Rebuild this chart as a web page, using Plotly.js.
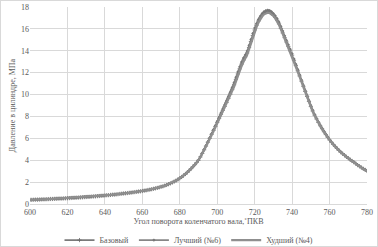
<!DOCTYPE html>
<html>
<head>
<meta charset="utf-8">
<script src="https://cdn.plot.ly/plotly-3.0.1.min.js"></script>
<style>
html,body{margin:0;padding:0;background:#fff;}
#wrap{position:relative;width:378px;height:247px;}
#chart{width:378px;height:247px;}
#frame{position:absolute;left:0;top:0;width:378px;height:247px;box-sizing:border-box;border:1px solid #d9d9d9;pointer-events:none;}
</style>
</head>
<body>
<div id="wrap"><div id="chart"></div><div id="frame"></div></div>
<script>
// Crank angle, degrees (600..780, step 1)
const angleStart = 600;
const angleStep = 1;

// Базовый
const baseValues = [
0.38,0.38,0.39,0.40,0.40,0.41,0.42,0.43,0.43,0.44,
0.45,0.46,0.46,0.47,0.48,0.49,0.50,0.50,0.51,0.52,
0.53,0.54,0.55,0.56,0.57,0.58,0.59,0.60,0.61,0.63,
0.64,0.65,0.66,0.68,0.69,0.70,0.72,0.73,0.75,0.76,
0.78,0.80,0.81,0.83,0.85,0.86,0.88,0.90,0.92,0.94,
0.96,0.98,1.00,1.02,1.04,1.07,1.09,1.11,1.14,1.16,
1.19,1.22,1.25,1.28,1.31,1.35,1.39,1.43,1.47,1.52,
1.57,1.62,1.68,1.74,1.81,1.88,1.96,2.05,2.14,2.24,
2.35,2.47,2.60,2.74,2.89,3.05,3.22,3.40,3.59,3.79,
4.00,4.30,4.62,4.95,5.29,5.64,6.00,6.36,6.72,7.08,
7.45,7.82,8.19,8.55,8.91,9.27,9.65,10.04,10.45,10.90,
11.38,11.88,12.35,12.78,13.15,13.45,13.80,14.30,14.85,15.40,
15.90,16.33,16.72,17.03,17.28,17.46,17.56,17.60,17.56,17.45,
17.27,17.05,16.78,16.45,16.05,15.63,15.20,14.80,14.40,14.00,
13.60,13.13,12.65,12.17,11.70,11.22,10.75,10.28,9.82,9.36,
8.90,8.50,8.12,7.77,7.45,7.15,6.88,6.60,6.34,6.09,
5.85,5.64,5.44,5.25,5.07,4.90,4.74,4.59,4.45,4.31,
4.18,4.05,3.93,3.81,3.70,3.55,3.44,3.33,3.22,3.12,
3.02
];

// Лучший (№6)
const bestValues = [
0.38,0.38,0.39,0.40,0.40,0.41,0.42,0.43,0.43,0.44,
0.45,0.46,0.46,0.47,0.48,0.49,0.50,0.50,0.51,0.52,
0.53,0.54,0.55,0.56,0.57,0.58,0.59,0.60,0.61,0.63,
0.64,0.65,0.66,0.68,0.69,0.70,0.72,0.73,0.75,0.76,
0.78,0.80,0.81,0.83,0.85,0.86,0.88,0.90,0.92,0.94,
0.96,0.98,1.00,1.02,1.04,1.07,1.09,1.11,1.14,1.16,
1.19,1.22,1.25,1.28,1.31,1.35,1.39,1.43,1.47,1.52,
1.57,1.62,1.68,1.74,1.81,1.88,1.96,2.05,2.14,2.24,
2.35,2.47,2.60,2.74,2.89,3.05,3.22,3.40,3.59,3.79,
4.00,4.31,4.64,4.98,5.33,5.69,6.06,6.43,6.80,7.17,
7.55,7.93,8.31,8.68,9.05,9.42,9.81,10.21,10.63,11.09,
11.57,12.07,12.54,12.97,13.33,13.62,13.98,14.49,15.04,15.58,
16.07,16.49,16.86,17.16,17.40,17.57,17.67,17.71,17.67,17.57,
17.40,17.19,16.93,16.61,16.22,15.80,15.37,14.96,14.55,14.14,
13.73,13.26,12.78,12.30,11.82,11.34,10.86,10.38,9.92,9.45,
8.99,8.58,8.19,7.84,7.51,7.21,6.93,6.65,6.38,6.13,
5.89,5.67,5.47,5.27,5.09,4.92,4.76,4.61,4.46,4.32,
4.19,4.06,3.94,3.82,3.71,3.56,3.45,3.34,3.23,3.13,
3.03
];

// Худший (№4)
const worstValues = [
0.38,0.38,0.39,0.40,0.40,0.41,0.42,0.43,0.43,0.44,
0.45,0.46,0.46,0.47,0.48,0.49,0.50,0.50,0.51,0.52,
0.53,0.54,0.55,0.56,0.57,0.58,0.59,0.60,0.61,0.63,
0.64,0.65,0.66,0.68,0.69,0.70,0.72,0.73,0.75,0.76,
0.78,0.80,0.81,0.83,0.85,0.86,0.88,0.90,0.92,0.94,
0.96,0.98,1.00,1.02,1.04,1.07,1.09,1.11,1.14,1.16,
1.19,1.22,1.25,1.28,1.31,1.35,1.39,1.43,1.47,1.52,
1.57,1.62,1.68,1.74,1.81,1.88,1.96,2.05,2.14,2.24,
2.35,2.47,2.60,2.74,2.89,3.05,3.22,3.40,3.59,3.79,
4.00,4.28,4.59,4.91,5.24,5.58,5.93,6.28,6.63,6.99,
7.35,7.71,8.07,8.42,8.77,9.12,9.49,9.87,10.27,10.71,
11.19,11.69,12.16,12.59,12.97,13.28,13.63,14.12,14.66,15.21,
15.72,16.16,16.56,16.88,17.14,17.33,17.44,17.48,17.45,17.35,
17.18,16.96,16.69,16.36,15.96,15.54,15.11,14.71,14.31,13.91,
13.51,13.04,12.56,12.08,11.61,11.13,10.66,10.19,9.74,9.28,
8.83,8.43,8.06,7.72,7.40,7.11,6.84,6.56,6.31,6.06,
5.82,5.61,5.41,5.23,5.05,4.88,4.72,4.57,4.44,4.30,
4.17,4.04,3.92,3.80,3.69,3.54,3.43,3.32,3.21,3.11,
3.01
];

const seriesNames = ['Базовый', 'Лучший (№6)', 'Худший (№4)'];
const xTicks = [600,620,640,660,680,700,720,740,760,780];
const yTicks = [0,2,4,6,8,10,12,14,16,18];

const angles = baseValues.map((_, i) => angleStart + i * angleStep);

const traces = [
  {
    x: angles, y: baseValues, name: seriesNames[0], type: 'scatter', mode: 'lines+markers',
    line: {color: '#7a7a7a', width: 1.6},
    marker: {symbol: 'cross-thin', size: 3, color: '#6a6a6a', line: {color: '#6a6a6a', width: 0.8}}
  },
  {
    x: angles, y: bestValues, name: seriesNames[1], type: 'scatter', mode: 'lines+markers',
    line: {color: '#868686', width: 1.6},
    marker: {symbol: 'diamond', size: 2.5, color: '#777777'}
  },
  {
    x: angles, y: worstValues, name: seriesNames[2], type: 'scatter', mode: 'lines',
    line: {color: '#8f8f8f', width: 2.2}
  }
];

const fontFam = '"Liberation Serif", "Times New Roman", serif';

const layout = {
  width: 378, height: 247,
  margin: {l: 30, r: 11, t: 7, b: 43},
  paper_bgcolor: '#ffffff', plot_bgcolor: '#ffffff',
  font: {family: fontFam, size: 8, color: '#595959'},
  showlegend: true,
  legend: {orientation: 'h', xref: 'container', yref: 'container', x: 0.5, xanchor: 'center', y: 0.028, yanchor: 'middle',
           font: {family: fontFam, size: 8, color: '#595959'}, itemwidth: 30, tracegroupgap: 0,
           bgcolor: 'rgba(0,0,0,0)'},
  xaxis: {
    range: [600, 780], tickvals: xTicks, ticktext: xTicks.map(String),
    showgrid: true, gridcolor: '#d9d9d9', gridwidth: 1, zeroline: false,
    showline: true, linecolor: '#d9d9d9', ticks: '', tickfont: {size: 8, family: fontFam, color: '#595959'},
    title: {text: 'Угол поворота коленчатого вала,˚ПКВ', font: {size: 8, family: fontFam, color: '#595959'}, standoff: 15},
    automargin: false
  },
  yaxis: {
    range: [0, 18], tickvals: yTicks, ticktext: yTicks.map(String),
    showgrid: true, gridcolor: '#d9d9d9', gridwidth: 1, zeroline: false,
    showline: false, ticks: '', tickfont: {size: 8, family: fontFam, color: '#595959'},
    title: {text: 'Давление в цилиндре, МПа', font: {size: 8, family: fontFam, color: '#595959'}, standoff: 4},
    automargin: false
  }
};

Plotly.newPlot('chart', traces, layout, {displayModeBar: false, staticPlot: true});
</script>
</body>
</html>
